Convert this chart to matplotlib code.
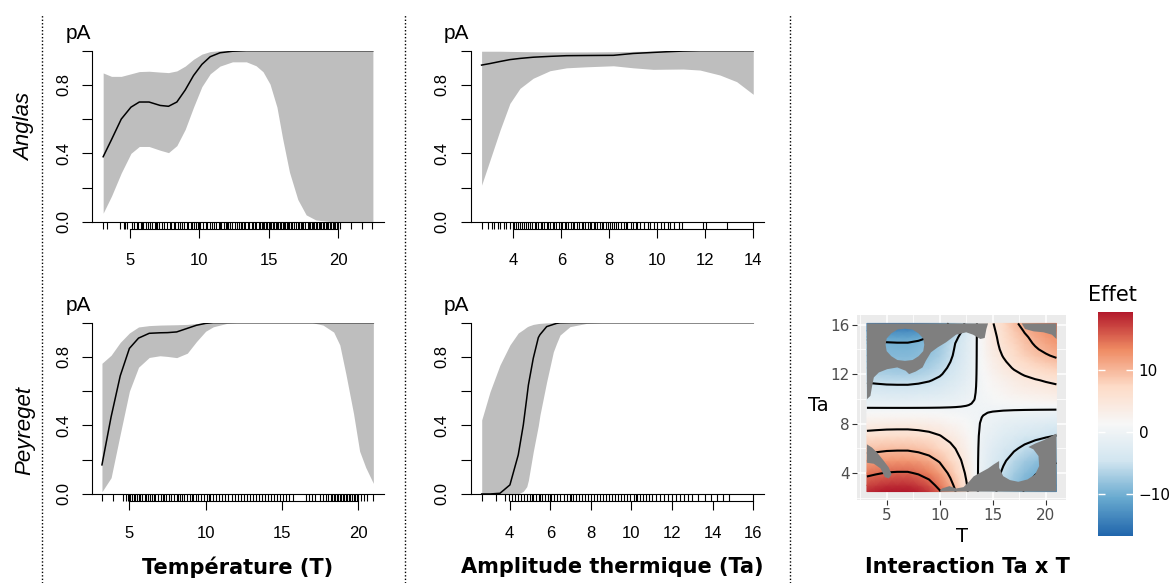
import numpy as np
import matplotlib.pyplot as plt
from matplotlib.lines import Line2D
from matplotlib.path import Path
from matplotlib.patches import PathPatch, Ellipse
from matplotlib.colors import Normalize, LinearSegmentedColormap

# ---- Anglas, effet de la temperature (T)
ang_T = [3.1, 3.7, 4.4, 5.1, 5.7, 6.4, 7.2, 7.8, 8.4, 9.0, 9.6, 10.2, 10.8, 11.5, 12.4,
         13.4, 14.1, 14.6, 15.1, 15.6, 16.0, 16.5, 17.1, 17.7, 18.4, 19.6, 22.5]
ang_T_fit = [0.38, 0.48, 0.60, 0.67, 0.70, 0.70, 0.68, 0.675, 0.70, 0.77, 0.855, 0.92, 0.965, 0.988, 0.997,
             1, 1, 1, 1, 1, 1, 1, 1, 1, 1, 1, 1]
ang_T_hi = [0.87, 0.85, 0.85, 0.865, 0.878, 0.88, 0.875, 0.872, 0.882, 0.91, 0.95, 0.98, 0.995, 1, 1,
            1, 1, 1, 1, 1, 1, 1, 1, 1, 1, 1, 1]
ang_T_lo = [0.05, 0.15, 0.285, 0.40, 0.44, 0.44, 0.418, 0.404, 0.445, 0.54, 0.67, 0.79, 0.865, 0.91, 0.935,
            0.935, 0.912, 0.877, 0.805, 0.67, 0.49, 0.29, 0.13, 0.04, 0.01, 0.0, 0.0]
ang_T_rug = [3.1, 3.4, 4.3, 4.6, 4.7, 4.8, 5.2, 5.3, 5.5, 5.6, 5.8, 5.9, 6.0, 6.2, 6.3, 6.5, 6.6,
             6.8, 6.9, 7.0, 7.1, 7.3, 7.5, 7.7, 7.9, 8.0, 8.2, 8.3, 8.5, 8.6, 8.8, 8.9, 9.1, 9.2,
             9.4, 9.5, 9.6, 9.8, 9.9, 10.0, 10.1, 10.3, 10.5, 10.6, 10.8, 10.9, 11.1, 11.2, 11.4,
             11.5, 11.6, 11.8, 11.9, 12.0, 12.1, 12.2, 12.4, 12.6, 12.7, 12.9, 13.0, 13.1, 13.2,
             13.3, 13.5, 13.6, 13.8, 13.9, 14.0, 14.1, 14.3, 14.4, 14.5, 14.6, 14.7, 14.8, 14.9,
             15.0, 15.1, 15.2, 15.3, 15.4, 15.5, 15.6, 15.7, 15.8, 15.9, 16.0, 16.1, 16.2, 16.3,
             16.4, 16.5, 16.6, 16.7, 16.8, 17.0, 17.1, 17.2, 17.3, 17.4, 17.5, 17.6, 17.8, 17.9,
             18.0, 18.1, 18.2, 18.3, 18.4, 18.5, 18.6, 18.7, 18.8, 18.9, 19.0, 19.1, 19.2, 19.3,
             19.4, 19.5, 19.6, 19.7, 19.8, 19.9, 20.0, 20.1, 20.9, 21.7, 22.4]

# ---- Anglas, effet de l'amplitude (Ta)
ang_Ta = [2.68, 3.03, 3.45, 3.86, 4.28, 4.83, 5.53, 6.22, 7.06, 8.17, 9.0, 9.83, 10.39, 11.08,
          11.78, 12.61, 13.31, 14.0]
ang_Ta_fit = [0.916, 0.925, 0.937, 0.948, 0.955, 0.962, 0.967, 0.971, 0.972, 0.973, 0.984, 0.99,
              0.994, 0.998, 1, 1, 1, 1]
ang_Ta_hi = [0.997, 0.997, 0.997, 0.996, 0.995, 0.994, 0.993, 0.993, 0.993, 0.994, 0.996, 0.998,
             0.999, 1, 1, 1, 1, 1]
ang_Ta_lo = [0.214, 0.36, 0.536, 0.692, 0.78, 0.839, 0.883, 0.90, 0.906, 0.912, 0.90, 0.891,
             0.892, 0.893, 0.887, 0.858, 0.819, 0.745]
ang_Ta_rug = [2.68, 2.95, 3.1, 3.2, 3.35, 3.45, 3.6, 3.7, 3.85, 4.0, 4.05, 4.1, 4.2, 4.3, 4.35,
              4.45, 4.55, 4.6, 4.7, 4.8, 4.9, 4.95, 5.05, 5.15, 5.2, 5.3, 5.4, 5.45, 5.55, 5.65,
              5.7, 5.8, 5.9, 6.0, 6.05, 6.15, 6.2, 6.3, 6.4, 6.5, 6.55, 6.65, 6.75, 6.85, 6.9, 7.0,
              7.1, 7.2, 7.25, 7.35, 7.4, 7.5, 7.6, 7.7, 7.75, 7.85, 7.95, 8.05, 8.1, 8.2, 8.3,
              8.35, 8.5, 8.6, 8.7, 8.75, 8.9, 9.0, 9.1, 9.15, 9.3, 9.45, 9.6, 9.7, 9.85, 10.0,
              10.15, 10.3, 10.45, 10.55, 10.7, 10.9, 11.05, 11.9, 12.05, 12.9, 14.0]

# ---- Peyreget, effet de T
pey_T = [3.2, 3.8, 4.4, 5.0, 5.6, 6.3, 7.0, 7.5, 8.1, 8.8, 9.4, 10.0, 10.5, 11.4, 12.0, 17.0,
         17.7, 18.4, 18.8, 19.2, 19.7, 20.1, 20.5, 21.0]
pey_T_fit = [0.17, 0.45, 0.69, 0.85, 0.91, 0.938, 0.941, 0.942, 0.946, 0.967, 0.985, 0.996, 1.0,
             1, 1, 1, 1, 1, 1, 1, 1, 1, 1, 1]
pey_T_hi = [0.763, 0.81, 0.885, 0.94, 0.975, 0.983, 0.986, 0.987, 0.988, 0.99, 0.995, 1, 1,
            1, 1, 1, 1, 1, 1, 1, 1, 1, 1, 1]
pey_T_lo = [0.013, 0.095, 0.35, 0.60, 0.74, 0.797, 0.807, 0.803, 0.796, 0.822, 0.89, 0.95, 0.976,
            0.996, 1.0, 1.0, 0.986, 0.945, 0.87, 0.70, 0.47, 0.25, 0.155, 0.062]
pey_T_rug = [3.2, 3.9, 4.6, 4.75, 4.9, 5.0, 5.05, 5.2, 5.3, 5.35, 5.5, 5.6, 5.7, 5.85, 6.0, 6.1,
             6.2, 6.35, 6.5, 6.6, 6.7, 6.9, 7.05, 7.2, 7.3, 7.4, 7.6, 7.75, 7.9, 8.1, 8.2, 8.3,
             8.45, 8.6, 8.8, 9.0, 9.1, 9.2, 9.35, 9.5, 9.7, 9.9, 10.1, 10.2, 10.3, 10.5, 10.7,
             10.9, 11.1, 11.3, 11.5, 11.7, 11.9, 12.1, 12.3, 12.5, 12.7, 12.9, 13.1, 13.3, 13.5,
             13.7, 13.9, 14.1, 14.3, 14.5, 14.7, 14.9, 15.1, 15.3, 15.5, 15.7, 16.6, 16.8, 17.0,
             17.2, 17.5, 17.7, 17.9, 18.0, 18.2, 18.3, 18.4, 18.5, 18.6, 18.7, 18.8, 18.9, 19.0,
             19.1, 19.2, 19.3, 19.4, 19.5, 19.6, 19.7, 19.8, 19.9, 20.0, 20.2, 20.4, 20.6, 21.0]

# ---- Peyreget, effet de Ta
pey_Ta = [2.62, 3.03, 3.52, 4.01, 4.42, 4.67, 4.84, 4.92, 5.16, 5.41, 5.49, 5.82, 6.15, 6.31,
          6.48, 6.97, 7.79, 8.5, 16.0]
pey_Ta_fit = [0.0, 0.0, 0.004, 0.053, 0.228, 0.403, 0.56, 0.636, 0.792, 0.913, 0.93, 0.977, 0.99,
              0.996, 0.999, 1, 1, 1, 1]
pey_Ta_hi = [0.432, 0.597, 0.753, 0.87, 0.94, 0.96, 0.975, 0.98, 0.99, 0.995, 0.996, 0.999, 1,
             1, 1, 1, 1, 1, 1]
pey_Ta_lo = [0, 0, 0, 0, 0, 0.015, 0.043, 0.08, 0.247, 0.40, 0.461, 0.655, 0.83, 0.88, 0.928,
             0.977, 0.996, 1, 1]
pey_Ta_rug = [2.62, 3.3, 3.78, 3.95, 4.1, 4.25, 4.4, 4.55, 4.7, 4.85, 5.0, 5.1, 5.15, 5.3, 5.45,
              5.5, 5.6, 5.75, 5.9, 6.0, 6.05, 6.2, 6.35, 6.5, 6.65, 6.8, 6.95, 7.0, 7.1, 7.25,
              7.4, 7.55, 7.7, 7.85, 8.0, 8.15, 8.3, 8.45, 8.6, 8.75, 8.9, 9.05, 9.2, 9.35, 9.5,
              9.65, 9.8, 9.95, 10.1, 10.2, 10.25, 10.4, 10.55, 10.7, 10.85, 11.0, 11.2, 11.4,
              11.6, 11.8, 12.0, 12.2, 12.4, 12.6, 12.8, 13.0, 13.3, 13.6, 13.9, 14.2, 14.5,
              14.8, 16.0]

grid_T = [3.15, 4, 5, 6, 7, 8, 9, 10, 11, 11.5, 12, 12.5, 13, 13.3, 13.55, 13.8, 14.1, 14.5,
          15, 16, 17, 18, 19, 20, 21]
eff_T = [0.97, 1.0, 1.03, 1.04, 1.04, 1.0, 0.93, 0.81, 0.63, 0.53, 0.42, 0.30, 0.17, 0.09, 0.0,
         -0.08, -0.16, -0.26, -0.37, -0.56, -0.73, -0.87, -0.98, -1.07, -1.15]
grid_Ta = [2.5, 3, 4, 5, 6, 7, 8, 8.5, 8.9, 9.2, 9.5, 9.9, 10.5, 11, 11.5, 12, 12.5, 13, 13.5,
           14, 14.5, 15, 15.5, 16.1]
eff_Ta_left = [18.6, 17.2, 14.5, 11.7, 8.9, 6.1, 3.3, 1.95, 0.85, 0.0, -0.85, -1.95, -3.4, -4.7,
               -5.8, -6.8, -7.6, -8.3, -8.9, -9.3, -9.7, -11.0, -13.0, -15.5]
eff_Ta_right = [12.0, 11.5, 10.2, 8.6, 6.6, 4.6, 2.6, 1.6, 0.7, 0.0, -0.85, -2.0, -3.1, -3.9,
                -4.7, -5.8, -6.9, -7.9, -8.9, -9.7, -10.3, -10.8, -11.5, -12.5]
eff_center = 0.2
levels = [-10, -5, 0, 5, 10, 15]
eff_range = (-16.7, 19.3)
rdbu = ['#2166ac', '#67a9cf', '#d1e5f0', '#f7f7f7', '#fddbc7', '#ef8a62', '#b2182b']

# zones trop loin des donnees (grisees)
mask_ul = [(3.15, 16.1), (14.56, 16.1), (14.40, 15.65), (14.24, 14.92), (13.83, 14.84),
           (13.14, 15.19), (12.50, 15.38), (11.55, 15.19), (10.60, 14.57), (9.81, 14.16),
           (9.18, 13.76), (8.70, 13.08), (8.39, 12.54), (7.75, 12.21), (7.12, 12.0),
           (6.80, 12.27), (6.01, 12.54), (5.06, 12.40), (4.27, 12.13), (3.80, 11.73),
           (3.64, 11.05), (3.48, 10.24), (3.15, 9.97)]
hole_ul = ((6.73, 14.37), 3.64, 2.6)
mask_ur = [(17.73, 16.1), (18.04, 15.65), (18.83, 15.46), (19.78, 15.38), (20.57, 15.19),
           (21.0, 14.84), (21.0, 16.1)]
mask_left = [(3.15, 6.32), (3.64, 6.05), (4.11, 5.65), (4.75, 4.97), (5.22, 4.43), (5.47, 3.89),
             (5.22, 3.56), (4.84, 3.67), (4.43, 4.37), (3.80, 4.75), (3.15, 4.83)]
mask_bottom = [(9.97, 2.5), (10.22, 2.75), (10.92, 2.94), (11.55, 2.75), (12.25, 2.86),
               (12.82, 3.35), (13.20, 3.73), (13.77, 4.0), (14.56, 4.37), (15.10, 4.70),
               (15.60, 4.97), (15.60, 4.43), (15.98, 3.75), (16.62, 3.43), (17.41, 3.29),
               (18.27, 3.48), (18.99, 3.89), (19.37, 4.56), (19.31, 5.37), (18.83, 5.92),
               (18.36, 6.10), (18.99, 6.38), (19.78, 6.65), (20.57, 7.0), (21.0, 7.19),
               (21.0, 2.5)]

RFONT = 'Liberation Sans'
GFONT = 'DejaVu Sans'

fig = plt.figure(figsize=(11.74, 5.83), dpi=100)


def panel(rect, x, fit, lo, hi, rug, xlim, xticks):
    ax = fig.add_axes(rect)
    ax.fill_between(x, lo, hi, color='#bebebe', lw=0, zorder=1)
    ax.plot(x, fit, color='black', lw=1.1, zorder=2)
    ax.set_xlim(xlim)
    ax.set_ylim(0, 1)
    ax.spines['top'].set_visible(False)
    ax.spines['right'].set_visible(False)
    ax.spines['left'].set_linewidth(0.8)
    ax.spines['bottom'].set_position(('outward', 5.3))
    ax.spines['bottom'].set_bounds(xticks[0], xticks[-1])
    ax.spines['bottom'].set_linewidth(0.8)
    ax.axhline(0, color='black', lw=0.8, clip_on=False, zorder=3)
    ax.vlines(rug, -0.043, 0, transform=ax.get_xaxis_transform(), colors='black',
              lw=0.8, clip_on=False)
    ax.set_xticks(xticks)
    ax.set_xticklabels([str(t) for t in xticks], family=RFONT)
    ax.set_yticks([0, 0.2, 0.4, 0.6, 0.8, 1.0])
    ax.set_yticklabels(['0.0', '', '0.4', '', '0.8', ''], rotation=90, va='center', family=RFONT)
    ax.tick_params(axis='x', length=6.5, width=0.8, pad=11, labelsize=12)
    ax.tick_params(axis='y', length=7, width=0.8, pad=8, labelsize=12)
    ax.text(-0.004, 1.10, 'pA', transform=ax.transAxes, ha='right', va='center',
            fontsize=15, family=RFONT)
    return ax


panel([0.0784, 0.6197, 0.2487, 0.2933], ang_T, ang_T_fit, ang_T_lo, ang_T_hi, ang_T_rug,
      (2.3, 23.3), [5, 10, 15, 20])
panel([0.4008, 0.6197, 0.2500, 0.2933], ang_Ta, ang_Ta_fit, ang_Ta_lo, ang_Ta_hi, ang_Ta_rug,
      (2.22, 14.45), [4, 6, 8, 10, 12, 14])
panel([0.0784, 0.1527, 0.2487, 0.2938], pey_T, pey_T_fit, pey_T_lo, pey_T_hi, pey_T_rug,
      (2.55, 21.7), [5, 10, 15, 20])
panel([0.4008, 0.1527, 0.2500, 0.2938], pey_Ta, pey_Ta_fit, pey_Ta_lo, pey_Ta_hi, pey_Ta_rug,
      (2.07, 16.53), [4, 6, 8, 10, 12, 14, 16])

fig.text(0.0213, 0.782, 'Anglas', rotation=90, style='italic', fontsize=16,
         family=RFONT, ha='center', va='center')
fig.text(0.0213, 0.2624, 'Peyreget', rotation=90, style='italic', fontsize=16,
         family=RFONT, ha='center', va='center')

# ---- carte d'interaction
cmap = LinearSegmentedColormap.from_list('rdbu7', rdbu)
axh = fig.add_axes([0.7304, 0.1424, 0.1776, 0.3173])
axh.set_facecolor('#EBEBEB')
TT, AA = np.meshgrid(grid_T, grid_Ta)
HH = np.where(TT < 13.55, np.array(eff_Ta_left)[:, None], np.array(eff_Ta_right)[:, None])
ZZ = np.array(eff_T)[None, :] * HH + eff_center
norm = Normalize(*eff_range)
axh.pcolormesh(TT, AA, ZZ, shading='gouraud', cmap=cmap, norm=norm, zorder=2)
axh.contour(TT, AA, ZZ, levels=levels, colors='black', linewidths=1.5,
            linestyles='solid', zorder=3)


def signed_area(v):
    v = np.asarray(v)
    return 0.5 * np.sum(v[:, 0] * np.roll(v[:, 1], -1) - np.roll(v[:, 0], -1) * v[:, 1])


def closed(v):
    v = np.asarray(v, dtype=float)
    return Path(np.vstack([v, v[:1]]), closed=True)


hole = Ellipse(*hole_ul).get_verts()[:-1]
if np.sign(signed_area(hole)) == np.sign(signed_area(mask_ul)):
    hole = hole[::-1]
paths = [Path.make_compound_path(closed(mask_ul), closed(hole)),
         closed(mask_ur), closed(mask_left), closed(mask_bottom)]
for p in paths:
    axh.add_patch(PathPatch(p, facecolor='#7f7f7f', edgecolor='none', zorder=4))

axh.set_xlim(2.26, 21.9)
axh.set_ylim(1.82, 16.78)
axh.set_xticks([5, 10, 15, 20])
axh.set_xticks([2.5, 7.5, 12.5, 17.5], minor=True)
axh.set_yticks([4, 8, 12, 16])
axh.set_yticks([2, 6, 10, 14], minor=True)
axh.grid(which='major', color='white', lw=1.1)
axh.grid(which='minor', color='white', lw=0.55)
axh.set_axisbelow(True)
for s in axh.spines.values():
    s.set_visible(False)
axh.tick_params(which='major', length=3.5, width=0.8, color='#333333', labelcolor='#4d4d4d',
                labelsize=11, pad=2)
axh.tick_params(which='minor', length=0)
for lab in axh.get_xticklabels() + axh.get_yticklabels():
    lab.set_family(GFONT)
fig.text(0.6968, 0.3053, 'Ta', fontsize=14, family=GFONT, ha='center', va='center')
fig.text(0.8192, 0.0794, 'T', fontsize=14, family=GFONT, ha='center', va='center')

cax = fig.add_axes([0.9353, 0.0806, 0.0298, 0.3847])
sm = plt.cm.ScalarMappable(norm=norm, cmap=cmap)
cb = fig.colorbar(sm, cax=cax, ticks=[-10, 0, 10])
cb.outline.set_visible(False)
cax.tick_params(length=0, labelsize=11, pad=4)
for lab in cax.get_yticklabels():
    lab.set_family(GFONT)
cax.hlines([-10, 0, 10], 0, 0.2, transform=cax.get_yaxis_transform(), colors='white', lw=1)
cax.hlines([-10, 0, 10], 0.8, 1, transform=cax.get_yaxis_transform(), colors='white', lw=1)
fig.text(0.9268, 0.494, 'Effet', fontsize=15, family=GFONT, ha='left', va='center')

# ---- titres en bas
for xc, txt in [(0.2027, 'Température (T)'), (0.5213, 'Amplitude thermique (Ta)'),
                (0.8237, 'Interaction Ta x T')]:
    fig.text(xc, 0.027, txt, fontsize=15, fontweight='bold', family=GFONT,
             ha='center', va='center')

# ---- separateurs pointilles
for xs in [0.0358, 0.345, 0.6729]:
    fig.add_artist(Line2D([xs, xs], [0, 0.974], transform=fig.transFigure, color='black',
                          lw=1, ls=(0, (1, 1.5))))

fig.savefig('out.png', dpi=100)
